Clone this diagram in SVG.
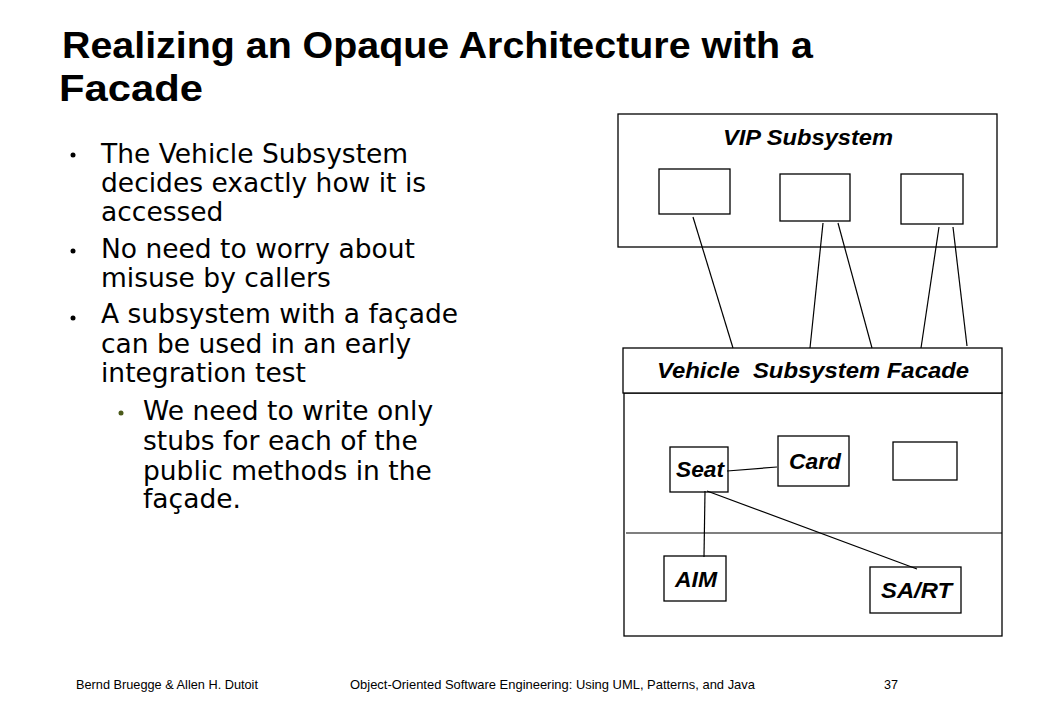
<svg xmlns="http://www.w3.org/2000/svg" width="1039" height="720" viewBox="0 0 1039 720">
<style>
.title{font-family:"Liberation Sans",Arial,sans-serif;font-weight:bold;font-size:36px;fill:#000}
.body{font-family:"DejaVu Sans",Verdana,sans-serif;font-size:26.5px;fill:#000}
.lbl{font-family:"Liberation Sans",Arial,sans-serif;font-weight:bold;font-style:italic;font-size:22px;fill:#000}
.foot{font-family:"Liberation Sans",Arial,sans-serif;font-size:13px;fill:#000}
.box{fill:#fff;stroke:#000;stroke-width:1.3}
.ln{stroke:#000;stroke-width:1.2;fill:none}
</style>
<rect width="1039" height="720" fill="#fff"/>
<g id="title">
<text class="title" x="62" y="58" textLength="751" lengthAdjust="spacingAndGlyphs">Realizing an Opaque Architecture with a</text>
<text class="title" x="59" y="101" textLength="144" lengthAdjust="spacingAndGlyphs">Facade</text>
</g>
<g id="bullets">
<circle cx="73" cy="155" r="2.5" fill="#000"/>
<circle cx="73" cy="251" r="2.5" fill="#000"/>
<circle cx="73" cy="318" r="2.5" fill="#000"/>
<circle cx="121" cy="413" r="2.5" fill="#4b5a1a"/>
<text class="body" x="101" y="163">The Vehicle Subsystem</text>
<text class="body" x="101" y="192">decides exactly how it is</text>
<text class="body" x="101" y="221">accessed</text>
<text class="body" x="101" y="258">No need to worry about</text>
<text class="body" x="101" y="287">misuse by callers</text>
<text class="body" x="101" y="323">A subsystem with a façade</text>
<text class="body" x="101" y="353">can be used in an early</text>
<text class="body" x="101" y="382">integration test</text>
<text class="body" x="143" y="420">We need to write only</text>
<text class="body" x="143" y="450">stubs for each of the</text>
<text class="body" x="143" y="480">public methods in the</text>
<text class="body" x="143" y="508">façade.</text>
</g>
<g id="vip-subsystem">
<rect class="box" x="618" y="114" width="379" height="133"/>
<text class="lbl" x="723" y="145" textLength="170" lengthAdjust="spacingAndGlyphs">VIP Subsystem</text>
</g>
<g id="vip-class-1"><rect class="box" x="659" y="169" width="71" height="45"/></g>
<g id="vip-class-2"><rect class="box" x="780" y="174" width="70" height="47"/></g>
<g id="vip-class-3"><rect class="box" x="901" y="174" width="62" height="50"/></g>
<g id="vehicle-subsystem">
<rect class="box" x="624" y="393" width="378" height="243"/>
<line class="ln" x1="626" y1="533" x2="1002" y2="533"/>
</g>
<g id="facade">
<rect class="box" x="623" y="348" width="379" height="45"/>
<text class="lbl" x="657" y="378" textLength="312" lengthAdjust="spacingAndGlyphs" xml:space="preserve">Vehicle  Subsystem Facade</text>
</g>
<g id="seat">
<rect class="box" x="670" y="447" width="58" height="45"/>
<text class="lbl" x="676" y="477" textLength="48" lengthAdjust="spacingAndGlyphs">Seat</text>
</g>
<g id="card">
<rect class="box" x="778" y="436" width="71" height="50"/>
<text class="lbl" x="789" y="469" textLength="52" lengthAdjust="spacingAndGlyphs">Card</text>
</g>
<g id="empty-class"><rect class="box" x="893" y="442" width="64" height="38"/></g>
<g id="aim">
<rect class="box" x="664" y="556" width="62" height="45"/>
<text class="lbl" x="675" y="587" textLength="42" lengthAdjust="spacingAndGlyphs">AIM</text>
</g>
<g id="sart">
<rect class="box" x="870" y="567" width="91" height="46"/>
<text class="lbl" x="881" y="598" textLength="71" lengthAdjust="spacingAndGlyphs">SA/RT</text>
</g>
<g id="connectors">
<line class="ln" x1="693" y1="217" x2="733" y2="348"/>
<line class="ln" x1="823" y1="223" x2="810" y2="348"/>
<line class="ln" x1="838" y1="223" x2="872" y2="348"/>
<line class="ln" x1="939" y1="227" x2="921" y2="348"/>
<line class="ln" x1="953" y1="227" x2="967" y2="346"/>
<line class="ln" x1="727" y1="471" x2="777" y2="467"/>
<line class="ln" x1="705" y1="491" x2="704" y2="557"/>
<line class="ln" x1="707" y1="491" x2="917" y2="569"/>
</g>
<g id="footer">
<text class="foot" x="76" y="689" textLength="182" lengthAdjust="spacingAndGlyphs">Bernd Bruegge &amp; Allen H. Dutoit</text>
<text class="foot" x="350" y="689" textLength="405" lengthAdjust="spacingAndGlyphs">Object-Oriented Software Engineering: Using UML, Patterns, and Java</text>
<text class="foot" x="884" y="689" textLength="14" lengthAdjust="spacingAndGlyphs">37</text>
</g>
</svg>
